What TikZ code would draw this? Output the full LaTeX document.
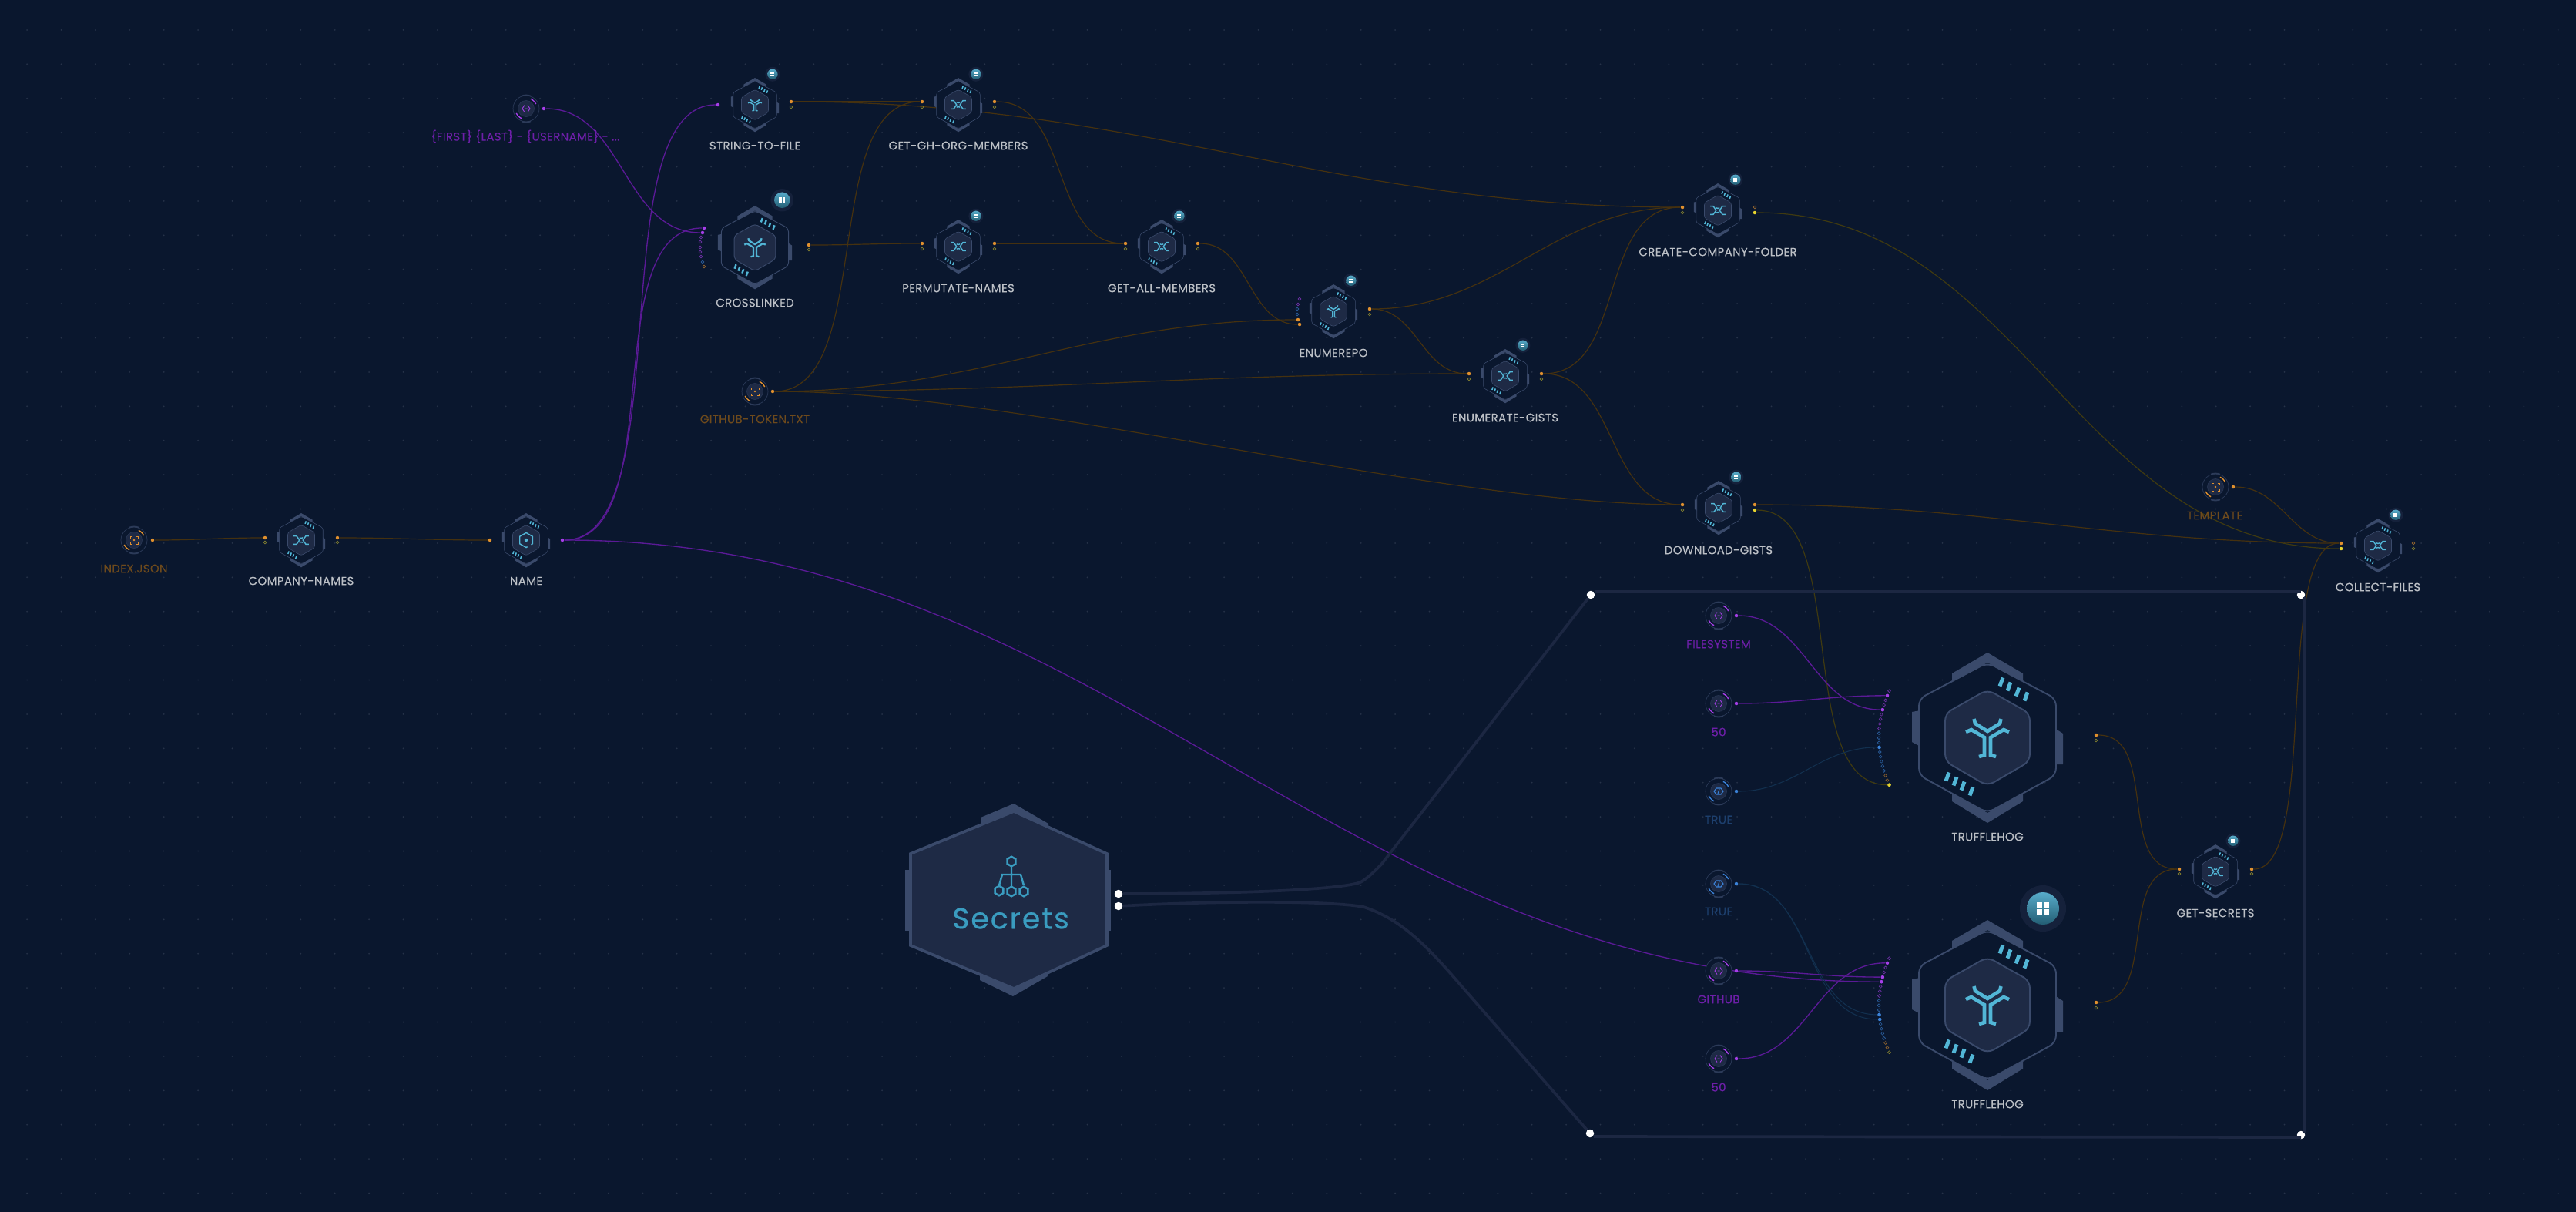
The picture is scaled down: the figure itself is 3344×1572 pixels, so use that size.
\documentclass[tikz,border=0pt]{standalone}
\usepackage{fontspec}
\setmainfont{Poppins}
\usetikzlibrary{backgrounds,shapes.geometric}

\definecolor{bgc}{HTML}{0A172E}
\definecolor{gridc}{HTML}{263248}
\definecolor{hexc}{HTML}{1E2A45}
\definecolor{rimc}{HTML}{3A4A6B}
\definecolor{icoc}{HTML}{52B6D6}
\definecolor{secc}{HTML}{3A9CC0}
\definecolor{framec}{HTML}{1C2742}
\definecolor{ppl}{HTML}{A63FE8}
\definecolor{blu}{HTML}{3B82D8}
\definecolor{org}{HTML}{E0902E}
\definecolor{yel}{HTML}{E6D42E}
\definecolor{labc}{HTML}{BCC0C6}
\definecolor{labpc}{HTML}{6D1FA8}
\definecolor{laboc}{HTML}{6E4A1C}
\definecolor{labbc}{HTML}{1D3F6D}
\definecolor{wpc}{HTML}{5A1A96}
\definecolor{wbc}{HTML}{12304F}
\definecolor{woc}{HTML}{45310F}
\definecolor{wyc}{HTML}{3F3A10}

% the icons sit at the centre of the hexagon
\newcommand{\icoy}{
  \draw[icoc,line width=\lwi] (-17.5,-24) -- (-16,-18) -- (0,-8) -- (16,-18) -- (17.5,-24);
  \draw[icoc,line width=\lwi] (-28,-7) -- (-21,-10) -- (-4,0) -- (-4,23) -- (-11,25);
  \draw[icoc,line width=\lwi] (28,-7) -- (21,-10) -- (4,0) -- (4,23) -- (11,25);
}
\newcommand{\icox}{
  \draw[icoc,line width=\lwi] (-31,-17) -- (-19,-17) -- (-7,0) -- (-19,17) -- (-31,17);
  \draw[icoc,line width=\lwi] (31,-17) -- (19,-17) -- (7,0) -- (19,17) -- (31,17);
  \draw[icoc,line width=\lwi] (-7,-10) to[bend right=30] (7,-10);
  \draw[icoc,line width=\lwi] (-7,10) to[bend left=30] (7,10);
}
\newcommand{\icod}{
  \draw[icoc,line width=\lwi,dash pattern=on 9pt off 1.6pt,dash phase=3pt] (0,-30) -- (26,-15) -- (26,15) -- (0,30) -- (-26,15) -- (-26,-15) -- cycle;
  \fill[icoc] (0,0) circle (7);
}
% arguments
\newcommand{\icopar}[1]{
  \draw[#1,line width=.25pt] (-2,-4.5) -- (-5,0) -- (-2,4.5) (2,-4.5) -- (5,0) -- (2,4.5) (-1.5,0) -- (1.5,0);
}
\newcommand{\icofoc}[1]{
  \draw[#1,line width=.25pt] (-5,-2.5) -- (-5,-5) -- (-2.5,-5) (2.5,-5) -- (5,-5) -- (5,-2.5) (5,2.5) -- (5,5) -- (2.5,5) (-2.5,5) -- (-5,5) -- (-5,2.5);
  \fill[#1] (0,0) circle (1.3);
}
\newcommand{\icobol}[1]{
  \draw[#1,line width=.3pt] (-3,-4) -- (-6,0) -- (-3,4) -- (3,4) -- (6,0) -- (3,-4) -- cycle (-1,3) -- (1,-3);
}

% name, x, y, scale, icon, badge
\newcommand{\jobhex}[6]{
  \pgfmathsetlengthmacro{\lwj}{.55pt*#4}
  \pgfmathsetlengthmacro{\lwi}{1.3pt*#4}
  \pgfmathsetlengthmacro{\rcj}{2.6pt*#4}
  \begin{scope}[shift={(#2,#3)},scale=#4]
    \coordinate (#1) at (0,0);
    \fill[rimc] (-46,-83) -- (0,-110) -- (46,-83) -- (46,-73) -- (0,-97) -- (-46,-73) -- cycle;
    \fill[rimc] (-46,83) -- (0,111) -- (46,83) -- (46,73) -- (0,98) -- (-46,73) -- cycle;
    \fill[rimc] (-98,-33) -- (-87,-35) -- (-87,12) -- (-98,6) -- cycle;
    \fill[rimc] (87,-12) -- (98,-5) -- (98,35) -- (87,35) -- cycle;
    \draw[rimc,fill=bgc,line width=\lwj,rounded corners=\rcj] (0,-97) -- (89,-50) -- (89,49) -- (0,98) -- (-89,49) -- (-89,-50) -- cycle;
    \draw[rimc,fill=hexc,line width=\lwj,rounded corners=\rcj] (0,-62) -- (55,-31) -- (55,31) -- (0,63) -- (-55,31) -- (-55,-31) -- cycle;
    \foreach \a/\b in {18/-72,28/-66,39/-59,50/-53,-52/51,-42/57,-32/63,-21/70}
      \draw[icoc,line width=1.4pt*#4] (\a-2,\b+5.5) -- (\a+2,\b-5.5);
    #5
    \ifnum#6=1
      \fill[hexc!55!bgc] (72,-125) circle (30);
      \shade[top color=secc!85!white,bottom color=secc!60!black] (72,-125) circle (21);
      \foreach \a/\b in {64/-133,73/-133,64/-124,73/-124}
        \fill[white] (\a,\b) rectangle +(7,7);
    \fi
  \end{scope}
}

% name, x, y, colour, icon
\newcommand{\argnode}[5]{
  \begin{scope}[shift={(#2,#3)}]
    \coordinate (#1) at (0,0);
    \draw[rimc!70!bgc,fill=bgc,line width=.2pt] (0,0) circle (17);
    \draw[rimc!70!bgc,line width=.5pt] plot[domain=-110:-70,samples=5] (\x:17.5);
    \draw[rimc!70!bgc,line width=.5pt] plot[domain=70:110,samples=5] (\x:17.5);
    \draw[rimc!60!bgc,fill=hexc,line width=.2pt] (0,0) circle (10.5);
    \draw[#4,line width=.4pt] plot[domain=-65:-25,samples=6] (\x:14);
    \draw[#4,line width=.4pt] plot[domain=115:155,samples=6] (\x:14);
    #5{#4}
  \end{scope}
}

% name, x, y: the 21 ports that bend round a big hexagon
\newcommand{\portarc}[3]{
  \foreach \i [count=\n from 0] in {-10,...,10}{
    \pgfmathsetmacro{\px}{#2-141+13.5*(\i/10)*(\i/10)}
    \pgfmathsetmacro{\py}{#3+.7+6.1*\i}
    \ifnum\n<9 \def\st{inpl}\else
      \ifnum\n<18 \def\st{inbl}\else
        \ifnum\n<20 \def\st{inor}\else \def\st{inyl}\fi\fi\fi
    \node[\st] (#1-\n) at (\px,\py) {};
  }
}

\begin{document}
\begin{tikzpicture}[
  x=0.01cm,y=-0.01cm,
  onpl/.style={circle,fill=ppl,inner sep=0,minimum size=.45mm},
  onbl/.style={circle,fill=blu,inner sep=0,minimum size=.45mm},
  onor/.style={circle,fill=org,inner sep=0,minimum size=.45mm},
  onyl/.style={circle,fill=yel,inner sep=0,minimum size=.45mm},
  inpl/.style={circle,draw=ppl!65!bgc,line width=.18pt,inner sep=0,minimum size=.38mm},
  inbl/.style={circle,draw=blu!65!bgc,line width=.18pt,inner sep=0,minimum size=.38mm},
  inor/.style={circle,draw=org!65!bgc,line width=.18pt,inner sep=0,minimum size=.38mm},
  inyl/.style={circle,draw=yel!55!bgc,line width=.18pt,inner sep=0,minimum size=.38mm},
  lab/.style={text=labc,font=\fontsize{4.25}{5}\selectfont\addfontfeatures{LetterSpace=2.5,FakeBold=.25}},
  labp/.style={lab,text=labpc},
  labo/.style={lab,text=laboc},
  labb/.style={lab,text=labbc},
  lnk/.style={out=0,in=180},
  wirep/.style={draw=wpc,line width=.38pt},
  wireb/.style={draw=wbc,line width=.3pt},
  wireo/.style={draw=woc,line width=.34pt},
  wirey/.style={draw=wyc,line width=.34pt},
  framel/.style={draw=framec,line width=1.05pt},
  whitedot/.style={circle,fill=white,inner sep=0,minimum size=1.05mm},
  shex/.style={regular polygon,regular polygon sides=6,shape border rotate=30,draw=secc,fill=hexc,line width=.7pt,inner sep=0,minimum size=1.25mm}
]

\useasboundingbox (0,0) rectangle (3344,1572);

\begin{scope}[on background layer]
  \fill[bgc] (-10,-10) rectangle (3354,1582);
  \foreach \a in {0,...,74}
    \foreach \b in {0,...,34}
      \fill[gridc] (35.1+44.4*\a,38.9+44.4*\b) circle (1);
\end{scope}

% group
\node[whitedot] (grptl) at (2065,772) {};
\node[whitedot] (grptr) at (2987,772) {};
\node[whitedot] (grpbl) at (2064,1471) {};
\node[whitedot] (grpbr) at (2987,1473) {};
\draw[framel] ([shift={(5,-4)}]grptl.center) -- ([shift={(0,-4)}]grptr.center);
\draw[framel] ([shift={(5,3)}]grptr.center) -- ([shift={(5,-3)}]grpbr.center);
\draw[framel] ([shift={(5,4)}]grpbl.center) -- ([shift={(0,3)}]grpbr.center);

% secrets
\fill[rimc] (1273,1061) -- (1316,1043) -- (1361,1069) -- (1361,1073) -- (1316,1053) -- (1273,1069) -- cycle;
\fill[rimc] (1272,1272) -- (1315,1293) -- (1360,1267) -- (1358,1262) -- (1316,1283) -- (1272,1264) -- cycle;
\fill[rimc] (1175,1129) rectangle (1183,1208);
\fill[rimc] (1436,1129) rectangle (1442,1208);
\draw[rimc,fill=hexc,line width=1.05pt] (1316,1053) -- (1437,1108) -- (1437,1227) -- (1316,1283) -- (1182,1227) -- (1182,1108) -- cycle;
\draw[secc,line width=.7pt] (1313,1125) -- (1313,1150) (1297,1149) -- (1301,1135) -- (1325,1135) -- (1329,1149);
\node[shex] (secico) at (1313,1118) {};
\node[shex] (secicl) at (1297,1156) {};
\node[shex] (secicm) at (1313,1157) {};
\node[shex] (secicr) at (1329,1157) {};
\node[text=secc,font=\fontsize{10.8}{12}\selectfont\addfontfeatures{LetterSpace=5,FakeBold=.3}] (sectxt) at (1312,1192) {Secrets};
\node[whitedot] (seca) at (1452,1160) {};
\node[whitedot] (secb) at (1452,1176) {};

% hexagons
\jobhex{cn}{391}{701}{.318}{\icox}{0}
\jobhex{nm}{683}{701}{.318}{\icod}{0}
\jobhex{stf}{980}{136}{.318}{\icoy}{1}
\jobhex{clk}{980}{321}{.49}{\icoy}{1}
\jobhex{ggm}{1244}{136}{.318}{\icox}{1}
\jobhex{pnm}{1244}{320}{.318}{\icox}{1}
\jobhex{gam}{1508}{320}{.318}{\icox}{1}
\jobhex{enr}{1731}{404}{.318}{\icoy}{1}
\jobhex{egi}{1954}{488}{.318}{\icox}{1}
\jobhex{ccf}{2230}{273}{.318}{\icox}{1}
\jobhex{dlg}{2231}{659}{.318}{\icox}{1}
\jobhex{cof}{3087}{708}{.318}{\icox}{1}
\jobhex{gts}{2876}{1131}{.318}{\icox}{1}
\jobhex{tra}{2580}{957}{1}{\icoy}{0}
\jobhex{trb}{2580}{1304}{1}{\icoy}{1}

% arguments
\argnode{idx}{174}{701}{org}{\icofoc}
\argnode{fmt}{683}{141}{ppl}{\icopar}
\argnode{tok}{980}{508}{org}{\icofoc}
\argnode{tpl}{2876}{632}{org}{\icofoc}
\argnode{fsy}{2231}{799}{ppl}{\icopar}
\argnode{nfa}{2231}{913}{ppl}{\icopar}
\argnode{tru}{2231}{1027}{blu}{\icobol}
\argnode{trv}{2231}{1147}{blu}{\icobol}
\argnode{ghb}{2231}{1260}{ppl}{\icopar}
\argnode{nfb}{2231}{1374}{ppl}{\icopar}

% labels
\node[lab] (cnl) at (391,754) {COMPANY-NAMES};
\node[lab] (nml) at (683,754) {NAME};
\node[lab] (stfl) at (980,189) {STRING-TO-FILE};
\node[lab] (clkl) at (980,393) {CROSSLINKED};
\node[lab] (ggml) at (1244,189) {GET-GH-ORG-MEMBERS};
\node[lab] (pnml) at (1244,374) {PERMUTATE-NAMES};
\node[lab] (gaml) at (1508,374) {GET-ALL-MEMBERS};
\node[lab] (enrl) at (1731,458) {ENUMEREPO};
\node[lab] (egil) at (1954,542) {ENUMERATE-GISTS};
\node[lab] (ccfl) at (2230,327) {CREATE-COMPANY-FOLDER};
\node[lab] (dlgl) at (2231,714) {DOWNLOAD-GISTS};
\node[lab] (cofl) at (3087,762) {COLLECT-FILES};
\node[lab] (gtsl) at (2876,1185) {GET-SECRETS};
\node[lab] (tral) at (2580,1086) {TRUFFLEHOG};
\node[lab] (trbl) at (2580,1433) {TRUFFLEHOG};
\node[labo] (idxl) at (174,738) {INDEX.JSON};
\node[labp] (fmtl) at (682,177) {\{FIRST\} \{LAST\} - \{USERNAME\} - ...};
\node[labo] (tokl) at (980,544) {GITHUB-TOKEN.TXT};
\node[labo] (tpll) at (2875,669) {TEMPLATE};
\node[labp] (fsyl) at (2231,836) {FILESYSTEM};
\node[labp] (nfal) at (2231,950) {50};
\node[labb] (trul) at (2231,1064) {TRUE};
\node[labb] (trvl) at (2231,1183) {TRUE};
\node[labp] (ghbl) at (2231,1297) {GITHUB};
\node[labp] (nfbl) at (2231,1411) {50};

% ports
\node[onor] (idx-o) at (198,701) {};
\node[onpl] (fmt-o) at (706,141) {};
\node[onor] (tok-o) at (1003,508) {};
\node[onor] (tpl-o) at (2899,632) {};
\node[onpl] (fsy-o) at (2254,799) {};
\node[onpl] (nfa-o) at (2254,913) {};
\node[onbl] (tru-o) at (2254,1027) {};
\node[onbl] (trv-o) at (2254,1147) {};
\node[onpl] (ghb-o) at (2254,1260) {};
\node[onpl] (nfb-o) at (2254,1374) {};

\node[onor] (cn-i) at (344,698) {};
\node[inyl] (cn-j) at (344,704) {};
\node[onor] (cn-o) at (438,698) {};
\node[inyl] (cn-p) at (438,704) {};
\node[onor] (nm-i) at (636,701) {};
\node[onpl] (nm-o) at (730,701) {};
\node[onpl] (stf-i) at (932,136) {};
\node[onor] (stf-o) at (1027,132) {};
\node[inyl] (stf-p) at (1027,139) {};
\node[onor] (ggm-i) at (1197,132) {};
\node[inyl] (ggm-j) at (1197,139) {};
\node[onor] (ggm-o) at (1291,132) {};
\node[inyl] (ggm-p) at (1291,139) {};
\node[onor] (clk-o) at (1050,318) {};
\node[inyl] (clk-p) at (1050,324) {};
\node[onor] (pnm-i) at (1197,316) {};
\node[inyl] (pnm-j) at (1197,323) {};
\node[onor] (pnm-o) at (1291,316) {};
\node[inyl] (pnm-p) at (1291,323) {};
\node[onor] (gam-i) at (1461,316) {};
\node[inyl] (gam-j) at (1461,323) {};
\node[onor] (gam-o) at (1555,316) {};
\node[inyl] (gam-p) at (1555,323) {};
\node[onor] (enr-o) at (1778,401) {};
\node[inyl] (enr-p) at (1778,408) {};
\node[onor] (egi-i) at (1907,485) {};
\node[inyl] (egi-j) at (1907,492) {};
\node[onor] (egi-o) at (2001,485) {};
\node[inyl] (egi-p) at (2001,492) {};
\node[onor] (ccf-i) at (2184,269) {};
\node[inyl] (ccf-j) at (2184,276) {};
\node[inor] (ccf-o) at (2278,269) {};
\node[onyl] (ccf-p) at (2278,276) {};
\node[onor] (dlg-i) at (2184,655) {};
\node[inyl] (dlg-j) at (2184,662) {};
\node[onor] (dlg-o) at (2278,655) {};
\node[onyl] (dlg-p) at (2278,662) {};
\node[onor] (cof-i) at (3039,705) {};
\node[onyl] (cof-j) at (3039,712) {};
\node[inor] (cof-o) at (3133,705) {};
\node[inyl] (cof-p) at (3133,712) {};
\node[onor] (gts-i) at (2829,1128) {};
\node[inyl] (gts-j) at (2829,1134) {};
\node[onor] (gts-o) at (2923,1128) {};
\node[inyl] (gts-p) at (2923,1134) {};
\node[onor] (tra-o) at (2721,954) {};
\node[inyl] (tra-p) at (2721,961) {};
\node[onor] (trb-o) at (2721,1301) {};
\node[inyl] (trb-p) at (2721,1308) {};

\foreach \n/\a/\b/\st in {0/914/296/onpl,1/912/302/onpl,2/910/308/inpl,3/909/314/inpl,4/909/321/inpl,5/909/327/inpl,6/910/333/inpl,7/912/340/inbl,8/914/346/inor}
  \node[\st] (clk-\n) at (\a,\b) {};
\foreach \n/\a/\b/\st in {0/1687/388/inpl,1/1685/395/inpl,2/1684/401/inbl,3/1684/408/inbl,4/1685/415/onor,5/1687/421/onor}
  \node[\st] (enr-\n) at (\a,\b) {};

\portarc{pa}{2580}{957}
\portarc{pb}{2580}{1304}
\foreach \k/\st in {1/onpl,4/onpl,12/onbl,20/onyl}
  \node[\st] (pa-on\k) at (pa-\k) {};
\foreach \k/\st in {1/onpl,4/onpl,5/onpl,12/onbl,13/onbl}
  \node[\st] (pb-on\k) at (pb-\k) {};

% links run under the hexagons
\begin{scope}[on background layer]
  \draw[wireo] (idx-o) to[lnk] (cn-i);
  \draw[wireo] (cn-o) to[lnk] (nm-i);
  \draw[wirep] (nm-o) to[lnk,looseness=.65] (stf-i);
  \draw[wirep] (nm-o) to[lnk,looseness=.8] (clk-0);
  \draw[wirep] (nm-o) to[lnk] (pb-on5);
  \draw[wirep] (fmt-o) to[lnk] (clk-1);
  \draw[wireo] (stf-o) to[lnk] (ggm-i);
  \draw[wireo] (stf-o) to[lnk] (ccf-i);
  \draw[wireo] (tok-o) to[lnk,looseness=.8] (ggm-i);
  \draw[wireo] (tok-o) to[lnk] (enr-4);
  \draw[wireo] (tok-o) to[lnk] (egi-i);
  \draw[wireo] (tok-o) to[lnk,looseness=.7] (dlg-i);
  \draw[wireo] (ggm-o) to[lnk] (gam-i);
  \draw[wireo] (clk-o) to[lnk] (pnm-i);
  \draw[wireo] (pnm-o) to[lnk] (gam-i);
  \draw[wireo] (gam-o) to[lnk] (enr-5);
  \draw[wireo] (enr-o) to[lnk] (egi-i);
  \draw[wireo] (enr-o) to[lnk] (ccf-i);
  \draw[wireo] (egi-o) to[lnk] (ccf-i);
  \draw[wireo] (egi-o) to[lnk] (dlg-i);
  \draw[wirey] (ccf-p) to[lnk] (cof-j);
  \draw[wireo] (dlg-o) to[lnk] (cof-i);
  \draw[wirey] (dlg-p) to[lnk,looseness=.8] (pa-on20);
  \draw[wireo] (tpl-o) to[lnk] (cof-i);
  \draw[wirep] (fsy-o) to[lnk] (pa-on4);
  \draw[wirep] (nfa-o) to[lnk] (pa-on1);
  \draw[wireb] (tru-o) to[lnk] (pa-on12);
  \draw[wireb] (trv-o) to[lnk] (pb-on12);
  \draw[wireb] (trv-o) to[lnk] (pb-on13);
  \draw[wirep] (ghb-o) to[lnk] (pb-on4);
  \draw[wirep] (nfb-o) to[lnk] (pb-on1);
  \draw[wireo] (tra-o) to[lnk] (gts-i);
  \draw[wireo] (trb-o) to[lnk] (gts-i);
  \draw[wireo] (gts-o) to[lnk,looseness=.5] (cof-i);
  \draw[framel] (seca) .. controls (1600,1160) and (1740,1155) .. (1766,1145) .. controls (1775,1140) and (1783,1132) .. (1793,1122) -- (grptl);
  \draw[framel] (secb) .. controls (1560,1170) and (1720,1168) .. (1770,1177) .. controls (1810,1190) and (1840,1215) .. (1880,1260) -- (grpbl);
\end{scope}

\end{tikzpicture}
\end{document}
